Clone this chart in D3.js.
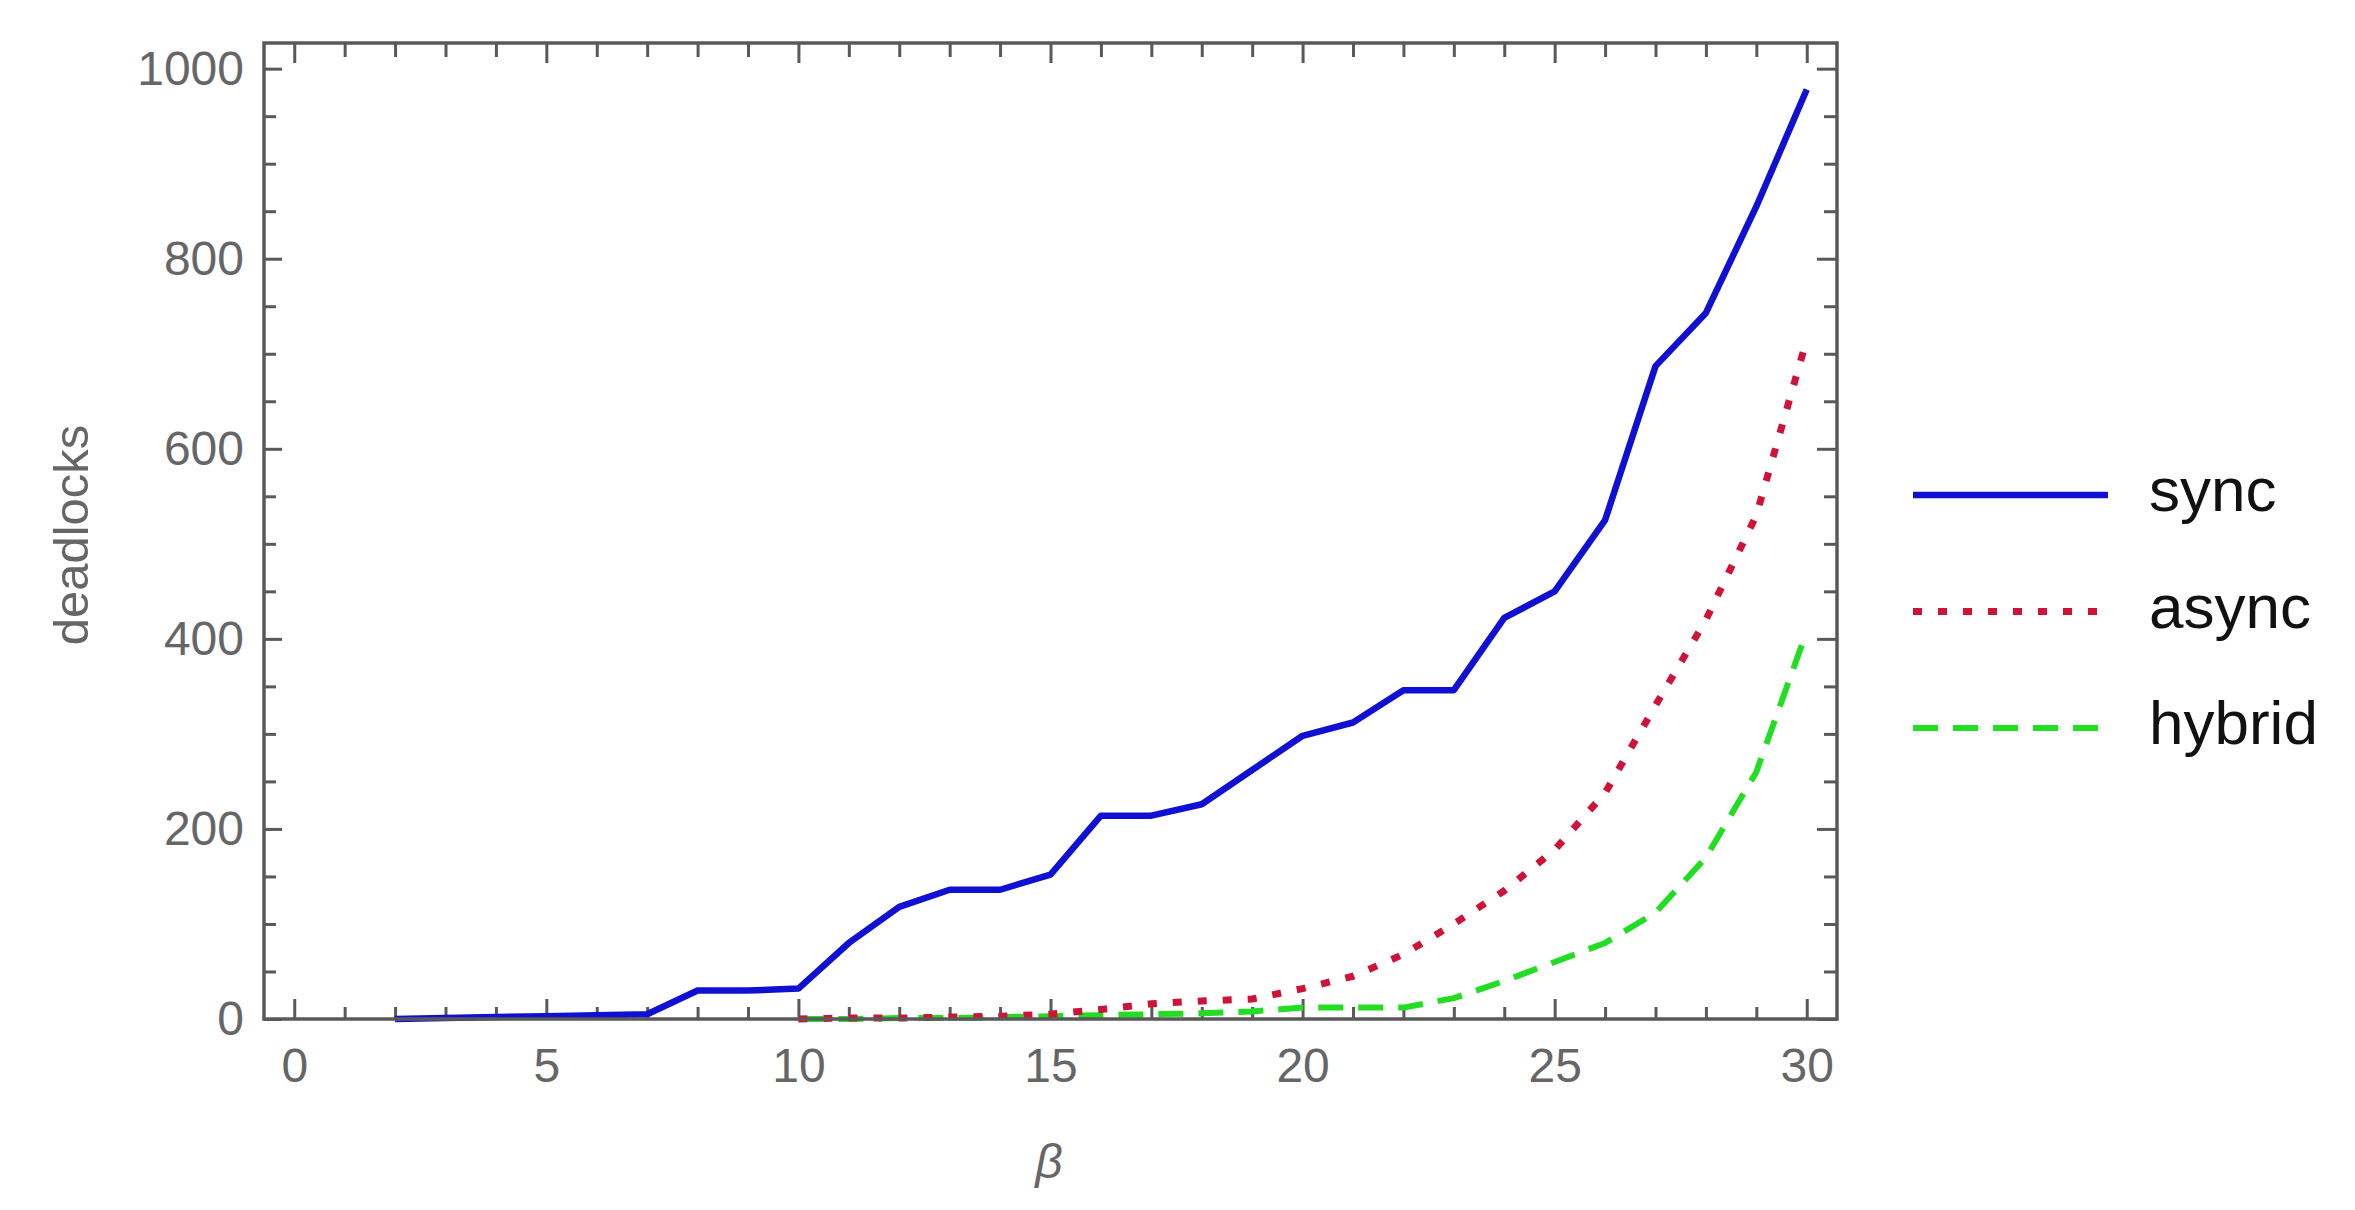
<!DOCTYPE html>
<html>
<head>
<meta charset="utf-8">
<script src="https://cdn.jsdelivr.net/npm/d3@7"></script>
<style>
  body { margin: 0; background: #fff; }
  text { font-family: "Liberation Sans", Arial, sans-serif; }
</style>
</head>
<body>
<div id="chart"></div>
<script>
// beta values and deadlock counts
var betaSync = [2, 3, 4, 5, 6, 7, 8, 9, 10, 11, 12, 13, 14, 15, 16, 17, 18, 19, 20, 21, 22, 23, 24, 25, 26, 27, 28, 29, 30];
var syncVals = [0, 1, 2, 3, 4, 5, 30, 30, 32, 80, 118, 136, 136, 152, 214, 214, 226, 262, 298, 312, 346, 346, 422, 450, 525, 687, 743, 855, 978];

var betaAsync = [10, 11, 12, 13, 14, 15, 16, 17, 18, 19, 20, 21, 22, 23, 24, 25, 26, 27, 28, 29, 30];
var asyncVals = [0, 1, 1, 2, 3, 5, 10, 16, 19, 21, 32, 45, 68, 100, 135, 178, 238, 330, 420, 530, 715];

var betaHybrid = [10, 11, 12, 13, 14, 15, 16, 17, 18, 19, 20, 21, 22, 23, 24, 25, 26, 27, 28, 29, 30];
var hybridVals = [0, 0, 1, 1, 2, 3, 4, 5, 6, 8, 12, 12, 12, 22, 40, 60, 80, 112, 170, 260, 408];

var seriesNames = ["sync", "async", "hybrid"];
var xTickLabels = [0, 5, 10, 15, 20, 25, 30];
var yTickLabels = [0, 200, 400, 600, 800, 1000];

(function() {
	var W = 2355, H = 1210;
	var left = 264, right = 1837, top = 43, bottom = 1019;

	var svg = d3.select("#chart")
				.append("svg")
				.attr("width", W)
				.attr("height", H);

	svg.append("rect").attr("width", W).attr("height", H).attr("fill", "#fff");

	var xScale = d3.scaleLinear().domain([-0.6, 30.6]).range([left, right]);
	var yScale = d3.scaleLinear().domain([0, 1027]).range([bottom, top]);

	var frameColor = "#595959";
	var labelColor = "#666";

	var xMinor = d3.range(0, 31, 1).filter(function(v) { return v % 5 !== 0; });
	var yMinor = d3.range(0, 1001, 50).filter(function(v) { return v % 200 !== 0; });

	function styleAxis(g, showText) {
		g.select(".domain").remove();
		g.selectAll("line").attr("stroke", frameColor).attr("stroke-width", 3);
		if (showText) {
			g.selectAll("text")
				.attr("fill", labelColor)
				.style("font-size", "48px");
		} else {
			g.selectAll("text").remove();
		}
	}

	// bottom
	svg.append("g").attr("transform", "translate(0," + bottom + ")")
		.call(d3.axisBottom(xScale).tickValues(xTickLabels).tickSize(-20).tickPadding(29).tickFormat(d3.format("d")))
		.call(styleAxis, true);
	svg.append("g").attr("transform", "translate(0," + bottom + ")")
		.call(d3.axisBottom(xScale).tickValues(xMinor).tickSize(-12))
		.call(styleAxis, false);
	// top
	svg.append("g").attr("transform", "translate(0," + top + ")")
		.call(d3.axisTop(xScale).tickValues(xTickLabels).tickSize(-20))
		.call(styleAxis, false);
	svg.append("g").attr("transform", "translate(0," + top + ")")
		.call(d3.axisTop(xScale).tickValues(xMinor).tickSize(-14))
		.call(styleAxis, false);
	// left
	svg.append("g").attr("transform", "translate(" + left + ",0)")
		.call(d3.axisLeft(yScale).tickValues(yTickLabels).tickSize(-18).tickPadding(20).tickFormat(d3.format("d")))
		.call(styleAxis, true);
	svg.append("g").attr("transform", "translate(" + left + ",0)")
		.call(d3.axisLeft(yScale).tickValues(yMinor).tickSize(-12))
		.call(styleAxis, false);
	// right
	svg.append("g").attr("transform", "translate(" + right + ",0)")
		.call(d3.axisRight(yScale).tickValues(yTickLabels).tickSize(-20))
		.call(styleAxis, false);
	svg.append("g").attr("transform", "translate(" + right + ",0)")
		.call(d3.axisRight(yScale).tickValues(yMinor).tickSize(-13))
		.call(styleAxis, false);

	// series
	var series = [
		{ name: seriesNames[0], xs: betaSync, ys: syncVals, color: "#1010d4", dash: null, width: 6.5 },
		{ name: seriesNames[1], xs: betaAsync, ys: asyncVals, color: "#cf1238", dash: "9,16", width: 7 },
		{ name: seriesNames[2], xs: betaHybrid, ys: hybridVals, color: "#22de22", dash: "25,15", width: 6 }
	];

	var line = d3.line()
		.x(function(d) { return xScale(d[0]); })
		.y(function(d) { return yScale(d[1]); });

	var plot = svg.append("g");
	series.slice().reverse().forEach(function(s) {
		plot.append("path")
			.datum(s.xs.map(function(b, i) { return [b, s.ys[i]]; }))
			.attr("d", line)
			.attr("fill", "none")
			.attr("stroke", s.color)
			.attr("stroke-width", s.width)
			.attr("stroke-linejoin", "round")
			.attr("stroke-dasharray", s.dash);
	});

	// frame
	svg.append("rect")
		.attr("x", left).attr("y", top)
		.attr("width", right - left).attr("height", bottom - top)
		.attr("fill", "none")
		.attr("stroke", frameColor)
		.attr("stroke-width", 3.5);

	// axis labels
	svg.append("text")
		.attr("transform", "translate(88,535) rotate(-90)")
		.attr("text-anchor", "middle")
		.attr("fill", labelColor)
		.style("font-size", "49px")
		.text("deadlocks");

	svg.append("text")
		.attr("x", 1049).attr("y", 1178)
		.attr("text-anchor", "middle")
		.attr("fill", labelColor)
		.style("font-size", "48px")
		.style("font-style", "italic")
		.text("β");

	// legend
	var legY = d3.scalePoint().domain(seriesNames).range([495, 728]);
	var leg = svg.append("g");
	series.forEach(function(s) {
		leg.append("line")
			.attr("x1", 1913).attr("x2", 2108)
			.attr("y1", legY(s.name)).attr("y2", legY(s.name))
			.attr("stroke", s.color)
			.attr("stroke-width", s.width)
			.attr("stroke-dasharray", s.dash);
		leg.append("text")
			.attr("x", 2149)
			.attr("y", legY(s.name) + 16)
			.attr("fill", "#111")
			.style("font-size", "62px")
			.text(s.name);
	});
})();
</script>
</body>
</html>
